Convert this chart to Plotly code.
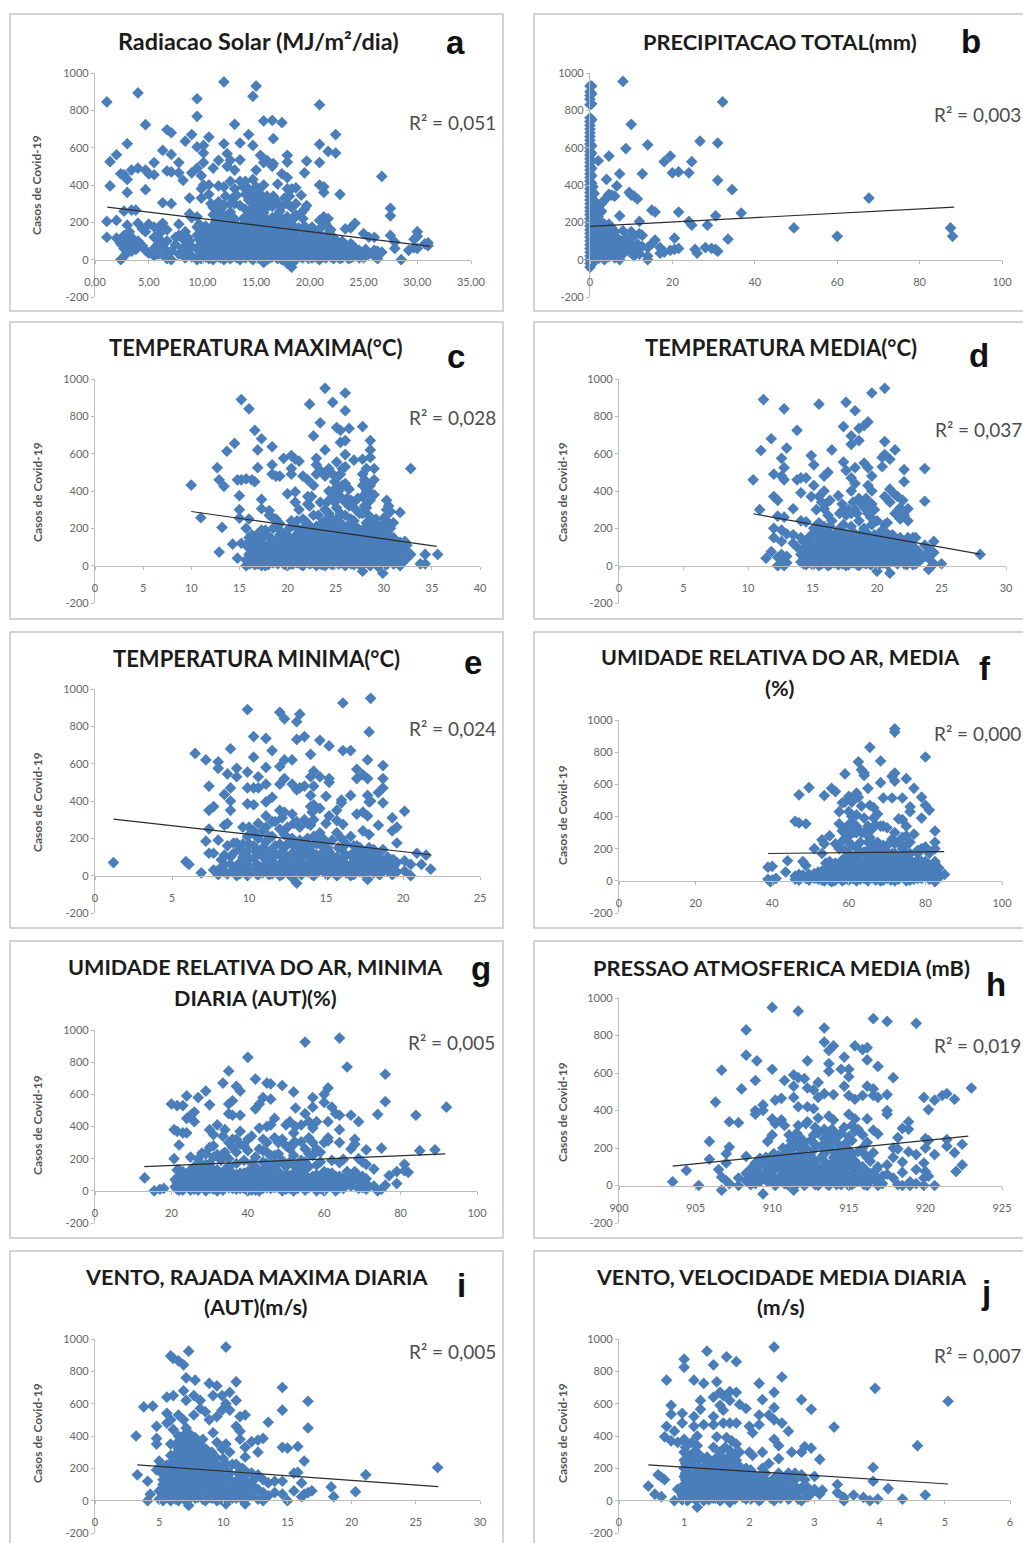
import plotly.graph_objects as go

# Scatter values: (x value, [case counts at that x])
a_cols = [(1.1,[845,205,120]),(1.4,[525,395]),(2.0,[562,210,115]),(2.4,[85,0,460]),(2.7,[455,260,130,60]),(3.0,[621,430,360,185,100,40]),(3.4,[480,265,120,75,45]),(3.8,[265,90,55]),(4.0,[893,490,195,100]),(4.4,[165,75]),(4.7,[723,480,375,150,50]),(5.0,[460,190,35]),(5.5,[520,455,175,120,60,20]),(5.9,[170,85,30]),(6.3,[585,305,195,70,25]),(6.7,[696,475,160,100,45,5]),(7.1,[680,564,470,300,45,0]),(7.5,[120,80]),(7.8,[520,465,190,130,30]),(8.2,[425,110,60]),(8.4,[635,150,50,10]),(8.8,[330,245,100,30]),(9.0,[670,465,225,70,15]),(9.5,[862,768,604,490,230,175,130,60,0]),(9.9,[450,380,330,150,90,30,5]),(10.1,[612,571,520,400,110,60,20]),(10.6,[657,400,350,150,85,40,5]),(11.0,[490,280,240,120,70,30,0]),(11.5,[532,395,310,260,180,130,90,50,15]),(12.0,[952,621,390,290,240,165,115,70,30,0]),(12.3,[568,500,210,150,100,55,15]),(12.6,[532,420,300,255,190,130,80,40,5]),(13.0,[725,480,380,300,215,150,100,60,20]),(13.5,[625,535,420,290,170,120,70,30,0]),(14.0,[420,350,270,200,140,90,45,10]),(14.3,[670,380,320,240,165,110,65,20]),(14.7,[875,612,430,300,225,150,90,40,0]),(15.0,[930,480,390,330,260,190,130,70,25]),(15.4,[559,350,290,215,160,100,50,5]),(15.7,[743,520,400,320,250,180,120,70,25,-15]),(16.0,[532,340,280,215,150,90,40,0]),(16.5,[746,500,285,225,165,110,60,15]),(16.6,[648,514,340,190,125,75,30]),(17.0,[405,300,240,170,100,50,5]),(17.4,[734,460,285,220,150,90,40,0]),(17.9,[559,523,440,380,300,230,170,110,60,10,-20]),(18.3,[380,280,190,125,70,30,-20,-40]),(18.7,[385,300,240,130,80,35,0]),(19.2,[345,250,110,60,15]),(19.5,[465,270,180,90,40]),(19.7,[528,290,150,70,20]),(20.2,[175,110,60,10]),(20.9,[830,618,520,400,210,130,75,30,0]),(21.3,[390,360,230,100,55,15]),(21.7,[580,220,140,80,35]),(22.4,[571,670,100,60,20]),(22.8,[350,85,40,5]),(23.3,[165,70,30]),(23.8,[170,85,40,10]),(24.2,[195,55,20]),(25.0,[140,40,10]),(25.5,[120,30]),(26.0,[120,50,20]),(26.3,[45,5]),(26.7,[446,40]),(27.5,[235,275,130]),(27.9,[60,95]),(28.5,[0]),(29.2,[50]),(29.7,[65,110]),(30,[150,125,60]),(30.7,[85]),(31,[75,90])]
a_dense = [(9.7,[20,45,70,110,190]),(10.3,[15,40,75,130,180]),(10.8,[10,55,95,130,170,300]),(11.2,[20,45,100,150,200]),(11.7,[10,35,70,110,150,220]),(12.15,[20,50,90,140,200,340]),(12.8,[15,60,110,160,230,330]),(13.2,[10,40,80,125,185,345]),(13.8,[20,50,100,150,220,390]),(14.5,[10,35,75,130,190,270,350]),(14.9,[15,55,110,170,300]),(15.2,[10,45,95,150,220,370]),(15.55,[25,75,130,190,270]),(15.9,[15,60,110,170,310]),(16.3,[10,35,85,135,190,300]),(16.8,[20,45,90,145,210,320]),(17.2,[15,65,120,190,260]),(17.65,[20,70,125,190,330]),(18.1,[10,45,100,155,210,340]),(18.5,[15,55,105,160,220]),(18.95,[20,60,100,170]),(19.35,[10,35,80,130,220]),(19.9,[5,30,55,100,130]),(20.4,[15,40,85,135]),(20.7,[10,50,100,150]),(21.1,[20,50,80,115,175]),(21.5,[10,30,65,120,190]),(21.95,[15,55,100,160]),(22.2,[5,40,80,120]),(22.6,[15,55,90]),(23,[10,35,70,100]),(23.6,[5,25,55]),(24,[15,45,75]),(24.6,[10,30,50]),(25.2,[25,55]),(2.9,[30,85]),(3.2,[55,100,150]),(6.0,[110,140]),(8.6,[80,120])]
b_cols = [(0,[-40,-20,0,20,40,60,80,100,120,140,160,180,200,220,240,260,280,300,320,340,360,380,400,420,440,460,480,500,520,540,560,580,600,620,640,660,680,700,720,740,760,830,860,880,900,930]),(0.4,[-25,10,50,90,130,170,210,250,290,330,370,410,450,490,530,570,610,750,835,890,930]),(1,[0,35,75,115,155,195,235,275,315,355]),(1.5,[15,60,105,150,195,240,300]),(2,[530,5,45,90,135,185,230,280]),(2.8,[260,25,70,115,165,200,300]),(3.5,[0,50,100,150,190,320]),(4,[430,30,75,125,180,330]),(4.6,[555,15,100,190,350]),(5.3,[60,130,170,345]),(6,[10,90,150,340]),(6.5,[395,40,120]),(7.2,[0,60,100,460,235]),(8,[955,30,75,155]),(8.7,[595,60,115]),(9.5,[45,95,360]),(10,[725,75,150,345]),(10.7,[20,55,130,340]),(11.5,[85,325]),(12,[30,140,205]),(12.7,[460,130,70]),(14,[615,0,65,20]),(15,[265,85]),(15.8,[105,255]),(17,[35,65]),(18,[525,40]),(19.5,[555,50]),(20,[465]),(20.5,[115,55]),(21.5,[470,60,255]),(24,[465,205]),(24.7,[185,525]),(25.5,[55]),(26,[35]),(26.7,[635]),(28,[65]),(28.5,[185]),(29.5,[60]),(30.5,[235,55]),(31,[625,425,45]),(32.2,[845]),(33.5,[110]),(34.5,[375]),(36.7,[250]),(49.5,[170]),(60,[125]),(67.7,[330]),(87.5,[170]),(88,[125])]
b_dense = [(0.7,[20,70,110,150,190,230,270,310,350,390]),(1.2,[55,95,135,175,215,255,295]),(2.4,[20,65,110,155,205,250])]
c_cols = [(10,[432]),(11,[257]),(12.7,[525]),(12.9,[460,73]),(13.2,[205]),(13.4,[425]),(13.7,[613]),(14.3,[115]),(14.5,[655]),(14.8,[460,40]),(15,[375,300,255]),(15.2,[890,460,120]),(15.7,[465,200,110,30,0]),(16,[840,250,150,60]),(16.3,[460,165,100,25]),(16.6,[725,450,140,70,5]),(16.9,[620,525,170,40]),(17.3,[680,355,305,190,120,60,0]),(17.7,[190,100,35,0]),(18.1,[295,270,80,20]),(18.4,[637,540,490,260,140,50]),(18.8,[480,250,110,65,20]),(19.2,[480,225,165,90,40]),(19.6,[575,170,120,60,10]),(20,[385,140,85,30,0]),(20.4,[590,520,490,240,110,55,10]),(20.8,[570,395,340,210,150,90,35]),(21.2,[560,300,130,70,20]),(21.6,[480,250,200,105,50,0]),(22.1,[460,370,330,225,165,90,35]),(22.3,[865,320,130,60,10]),(22.7,[695,430,270,100,40]),(23,[575,540,490,210,150,85,25,0]),(23.4,[765,510,340,180,120,60,10]),(23.9,[950,620,480,300,240,195,150,100,45,0]),(24.3,[520,400,280,210,120,70,25]),(24.7,[875,490,370,250,170,100,50,5]),(25.1,[740,555,420,310,230,150,90,35]),(25.5,[725,660,490,370,280,190,130,70,15]),(26,[925,830,670,595,530,440,340,270,170,100,50,0]),(26.4,[735,410,320,210,130,75,25]),(26.9,[565,340,240,160,100,45,5]),(27.3,[360,200,130,70,15]),(27.8,[745,570,490,430,370,280,190,120,60,-30]),(28.2,[520,400,310,230,150,90,35]),(28.6,[670,620,580,430,350,260,170,110,55,0]),(29,[520,460,380,240,130,75,20]),(29.4,[190,130,80,40,-5]),(29.9,[220,100,60,-40]),(30.3,[350,300,240,170,110,50,5]),(30.7,[290,200,90,40]),(31.2,[130,70,15]),(31.7,[285,125,50,0]),(32.2,[130,90,30]),(32.8,[520,60]),(33.8,[10]),(34.3,[60,10]),(35.6,[60])]
c_dense = [(16.1,[10,40,90,130]),(16.9,[10,50,95]),(17.5,[20,75,150]),(18,[5,50,110,160]),(18.5,[15,40,85,200]),(19,[10,55,100,140,200]),(19.4,[20,70,140]),(19.8,[5,40,90,150]),(20.2,[15,60,100,150,200]),(20.6,[10,40,80,130]),(21,[15,60,100,170,240]),(21.4,[5,40,85,135,185]),(21.8,[15,70,125,170,240]),(22.5,[15,55,100,150,200,370]),(22.9,[10,45,115,160]),(23.2,[20,70,130,200,270]),(23.6,[5,45,90,150,230]),(24.1,[15,70,125,170,340]),(24.5,[10,45,95,150,250,390]),(24.9,[20,75,130,200,340,450]),(25.3,[10,55,110,170,260,400,480]),(25.7,[25,90,150,220,430,520]),(26.2,[15,70,130,210,360,420]),(26.6,[10,50,100,165,250,350]),(27.1,[15,65,125,200,300]),(27.5,[5,45,90,150,280]),(28,[15,75,130,200,320,460]),(28.4,[10,50,110,170,270,420]),(28.8,[25,85,140,210,380]),(29.2,[10,55,100,170,250]),(29.6,[20,70,120,160,210]),(30.1,[10,35,80,135,190,260]),(30.5,[20,60,130,200,320]),(31,[10,45,100,150,230]),(31.4,[25,75,110]),(31.9,[15,80,105]),(32.4,[40,110])]
d_cols = [(10.4,[460]),(10.9,[300]),(11,[617]),(11.2,[890]),(11.4,[40]),(11.8,[680,75]),(12,[490,370,200,150]),(12.3,[350,265,45,0]),(12.6,[575,480,190,130,60]),(12.8,[840,525,460,260,20,0]),(13,[630,170,50,15]),(13.5,[305,120,165]),(13.8,[725,460,100]),(14.1,[390,470,240,150,60,20]),(14.5,[470,235,110,70,30,5]),(14.9,[590,370,130,90,45]),(15.1,[540,430,200,60,10]),(15.5,[865,370,230,160,100,50,0]),(15.9,[480,400,305,210,130,80,30]),(16.2,[500,270,180,100,50,0]),(16.5,[620,240,140,70,20]),(17,[375,190,110,55,5]),(17.4,[745,555,300,220,150,90,35]),(17.6,[875,510,270,170,110,60,0]),(18,[695,650,470,400,280,210,130,70,20]),(18.3,[830,525,440,300,170,100,50]),(18.6,[735,670,360,240,150,85,30,0]),(19,[750,550,320,200,120,60,15]),(19.3,[770,525,430,280,170,90,35]),(19.6,[925,480,400,330,220,130,70,10]),(20,[240,160,100,50,-30]),(20.4,[580,530,190,120,65,15]),(20.6,[950,665,595,370,220,90,30]),(21,[570,410,340,160,100,45,-40]),(21.4,[620,380,280,130,75,20]),(21.8,[310,250,150,95,50]),(22.1,[515,450,270,110,60,10]),(22.4,[305,240,150,80,30]),(22.8,[150,100,50,5]),(23.3,[70,25]),(23.7,[520,345,110,50]),(24,[90,40,-20]),(24.4,[130,70,10]),(25,[10]),(28,[60])]
d_dense = [(14.3,[10,45,90,130]),(14.7,[20,60,105,150]),(15,[5,35,85,115,170]),(15.3,[25,70,125,190,300]),(15.7,[10,40,90,140,200,340]),(16,[20,65,110,165,330]),(16.35,[5,35,85,125,210,350]),(16.7,[15,55,100,160]),(17.1,[30,80,130,280]),(17.3,[10,50,100,170,330]),(17.8,[5,45,95,150,300]),(18.15,[15,60,105,170,340]),(18.45,[5,40,85,130,280]),(18.8,[20,70,110,175,330]),(19.15,[10,45,95,150,300,360]),(19.5,[5,30,75,115,260]),(19.8,[20,60,105,165,300]),(20.15,[5,40,85,130]),(20.5,[15,45,100,150]),(20.8,[5,60,115,170,230]),(21.2,[25,70,110,165]),(21.6,[10,50,95,140,370]),(22,[20,70,125,350]),(22.3,[5,45,105]),(22.6,[25,70,125]),(23,[10,50,90,150])]
e_cols = [(1.2,[70]),(5.9,[75]),(6.1,[60]),(6.5,[655]),(6.9,[15]),(7.2,[620,185]),(7.4,[350,480,250,120]),(7.7,[370,120,30]),(8,[610,575,190,30,5]),(8.4,[435,270,110,60,20]),(8.6,[545,280,160,10]),(8.8,[680,470,400,350,100,60]),(9.2,[575,530,175,50,0]),(9.6,[260,170,100,30]),(9.9,[890,555,470,385,210,130,60,0]),(10.3,[745,635,470,380,240,160,95,30]),(10.6,[530,470,280,200,120,55,5]),(11.1,[735,580,490,395,320,260,180,100,40]),(11.5,[670,420,290,210,130,70,10]),(12,[875,585,490,350,250,170,110,50,0]),(12.3,[840,620,520,340,220,150,85,30]),(12.8,[620,330,490,200,120,60,-10]),(13.1,[825,730,460,290,170,100,45,-40]),(13.3,[865,470,260,190,130,70,15]),(13.6,[745,480,300,180,110,55]),(14,[650,530,430,370,270,160,90,30]),(14.2,[560,480,380,300,210,120,60,0]),(14.6,[725,530,360,230,170,95,40]),(15,[425,280,180,120,65,10]),(15.2,[695,500,520,320,130,80,25]),(15.7,[350,295,230,100,50,0]),(16,[405,390,200,140,70,20]),(16.1,[925,670,275,90,40]),(16.6,[670,430,210,110,55,0]),(17,[570,520,330,160,90,30]),(17.4,[540,340,240,130,70,15]),(17.7,[620,520,430,320,110,55,-20]),(17.8,[770,395,220,150,80,30]),(17.9,[950,400,90,40]),(18.4,[445,270,120,65,10]),(18.7,[590,520,470,390,140,80,30]),(19.3,[240,310,85,40,5]),(19.6,[260,175,70,20]),(20.1,[345,80,25]),(20.5,[60,0]),(20.9,[120]),(21.2,[60]),(21.5,[110]),(21.8,[35])]
e_dense = [(8.2,[85,40]),(9,[30,120,175]),(9.4,[10,70,140]),(10,[20,90,170,260]),(10.5,[10,60,130,210]),(10.9,[15,50,100,150,240]),(11.3,[5,35,75,130,210]),(11.7,[20,60,110,160,290]),(12.15,[5,30,75,130,310]),(12.5,[15,55,100,170,260]),(12.9,[20,45,90,160,280]),(13.4,[5,35,100,150]),(13.8,[20,60,130,200,280]),(14.1,[5,40,75,120,340]),(14.4,[15,55,110,170]),(14.8,[25,70,125,200]),(15.1,[5,40,90,150]),(15.4,[20,60,105,190]),(15.8,[5,35,80,150]),(16.3,[15,60,110,170]),(16.8,[5,30,75,120,160]),(17.2,[20,60,110,150]),(17.6,[10,40,85,130]),(18.1,[15,55,100,140]),(18.5,[5,40,90]),(19,[25,65,100]),(19.4,[15,50,85])]
f_cols = [(38.9,[10,85]),(39.5,[-5]),(40,[90,5]),(41,[15]),(44,[125]),(43.5,[55]),(46,[370,10,30]),(47,[535,360,40,5]),(48,[120,35]),(48.8,[355,95,15]),(49.6,[580,40,5]),(51,[200,45,15]),(52,[55,10]),(53,[255,170,30,5]),(53.6,[530,230,60,0]),(55,[280,85,120,20]),(55.5,[575,35,-5]),(56.5,[555,230,110,50,5]),(57.5,[430,355,200,85,25]),(58.3,[485,310,130,60,0]),(59,[665,490,265,190,90,30]),(60,[525,430,350,280,130,60,5]),(60.8,[490,400,220,90,35]),(61.5,[305,155,85,15]),(62,[545,410,300,65,0]),(62.5,[740,520,130,30]),(63.3,[690,465,300,100,60]),(64,[655,670,390,180,80,15]),(65,[575,340,240,130,40,0]),(65.5,[830,470,270,100,60]),(66.5,[455,390,200,150,80,15]),(67.5,[415,240,120,45]),(68.3,[745,610,340,170,90,25,0]),(69,[515,220,130,60]),(70,[330,180,100,35]),(71.3,[650,515,260,170,75,15]),(72,[925,945,670,620,230,120,60,0]),(73,[385,110,40]),(74,[515,380,200,150,80,25]),(75,[635,340,280,220,120,60,0]),(76,[460,430,170,90,30]),(77,[575,290,110,60,10]),(78,[190,130,50]),(79,[520,390,75,15]),(80,[770,470,210,120,60]),(81,[440,170,100,35]),(82.5,[310,240,200,120,40,-5]),(83.5,[80,20]),(85,[40])]
f_dense = [(50,[20]),(53,[60]),(54,[45,10,110]),(55,[55,5]),(56,[30,0,85]),(57,[60,15]),(58,[30,100,240]),(59,[10,55,135,320]),(60,[25,100,170,240]),(61,[15,60,130,300,360]),(62,[35,100,205,340]),(63,[10,60,170,240]),(64,[35,120,300]),(65,[10,70,165,190]),(66,[30,110,240,320]),(67,[5,60,90,170,350]),(68,[20,50,120,210]),(69,[5,35,90,170,340]),(70,[15,60,140,220]),(71,[5,40,110]),(72,[30,90,170,300]),(73,[10,65,150,240]),(74,[45,115,270]),(75,[25,90,170]),(76,[5,60,130,240]),(77,[35,85]),(78,[15,80,170]),(79,[45,120,200]),(80,[25,90]),(81,[10,60]),(82,[75,20]),(83,[50])]
g_cols = [(13,[80]),(15.5,[0]),(17,[10]),(18,[15]),(20,[540]),(20.7,[200,380]),(21.5,[530,370,130,50,10]),(22,[285,90]),(23,[530,360,120,60,5]),(24,[590,450,360,100,30]),(25,[210,470,130,70,5]),(26,[430,490,150,90,40]),(27,[580,200,110,50,5]),(28,[235,160,95,30]),(29,[620,130,65,0]),(30,[535,380,270,170,105,50,15]),(31,[350,280,130,70,10]),(32,[410,225,100,40,0]),(33.5,[670,340,230,110,55,5]),(34,[380,130,30]),(35,[745,540,480,300,150,80,20]),(36,[560,470,270,110,45]),(37,[650,320,240,70,10]),(38,[620,470,370,110,40]),(39,[280,80,15]),(40,[830,320,120,60,0]),(41,[340,130,80,30]),(42,[695,510,150,55,5]),(43,[540,390,120,80,0]),(44,[580,250,180,100,40]),(45,[670,400,300,240,130,65]),(46,[665,570,410,150,85,15]),(47,[450,330,220,110,45]),(48,[230,170,85,20]),(49,[655,320,60,0]),(50,[410,150,105,40]),(51,[430,260,95,15]),(52,[615,360,220,160,60,0]),(52.5,[515,400,300,120]),(54,[410,305,130,70,25]),(55,[925,480,180,100,40,5]),(56,[330,430,230,70]),(57,[580,520,390,300,90,30]),(58,[430,260,100,50,0]),(59,[240,80,15]),(60,[600,550,120,60,0]),(61,[640,430,330,310,80,25]),(62,[520,110,50]),(63,[480,90,30,0]),(64,[950,470,380,300,175,60]),(65,[195,75,15]),(66,[770,120,50]),(67,[470,260,60,30]),(68,[320,290,120,70]),(69,[430,200,60,15]),(70,[180,90,40]),(71,[255,165,75,10]),(73,[135,30]),(74,[475,0]),(75,[265,10]),(76,[725,555,35]),(77,[95]),(79,[120,45]),(81,[165,125]),(82,[115]),(84,[470]),(85,[250]),(89,[255]),(92,[520])]
g_dense = [(21,[25,70]),(22,[5,40,130]),(23,[30,90]),(24,[55]),(25,[35,100]),(26,[10,65]),(27,[25,80,150]),(28,[60,115]),(29,[20,95,165,230]),(30,[75]),(31,[30,100,210]),(32,[65,130]),(33,[25,85,190]),(34,[60,95,240]),(35,[110,200]),(36,[15,75,320]),(37,[40,100,170]),(38,[15,75,290]),(39,[50,110,190]),(40,[25,90,250]),(41,[5,55,110,170]),(42,[30,90,210]),(43,[30,55,260]),(44,[15,70,130,320]),(45,[20,95,170]),(46,[50,110,220]),(47,[20,80,170]),(48,[50,120,300]),(49,[30,90,190]),(50,[10,70,280]),(51,[45,180]),(52,[30,100,300]),(53,[15,80,160]),(54,[45,100,190]),(55,[70,140,260]),(56,[20,45,150]),(57,[60,220]),(58,[25,75,160]),(59,[50,180]),(60,[30,90,300]),(61,[50,110]),(62,[25,80,190]),(63,[60]),(64,[20,90]),(65,[45]),(67,[90]),(69,[90]),(70,[65,20]),(71,[45])]
h_cols = [(903.5,[20]),(904.4,[80]),(905.2,[0]),(905.9,[235,140]),(906.3,[445]),(906.5,[85]),(906.7,[615,-25,45]),(907,[170,120,25]),(907.2,[340,205,10]),(907.8,[335,40,0]),(908,[515]),(908.3,[830,695,155,65,25]),(908.9,[560,400,380,120,70,10]),(909,[665,90,40]),(909.4,[430,400,45,-45]),(909.7,[235,130,80,20]),(910,[950,620,355,270,110,55]),(910.2,[455,330,150,30,0]),(910.6,[465,350,95,50]),(910.8,[560,320,170,120,70,10]),(911.1,[270,205,130,35]),(911.4,[590,530,470,245,160,90,55,-25]),(911.7,[930,575,420,320,205,120,15]),(912.1,[570,230,150,85,35,0]),(912.3,[665,520,420,340,110,60]),(912.7,[510,410,270,190,135,20]),(913,[550,470,360,280,100,55,0]),(913.4,[765,840,490,300,250,170,130,30]),(913.7,[720,650,610,370,270,210,80,0]),(914,[745,485,350,290,150,45]),(914.5,[620,280,200,120,70,5]),(914.7,[685,530,310,170,100,30]),(915,[620,580,480,380,260,190,130,50,0]),(915.4,[745,460,355,290,130,75,15]),(915.9,[725,480,270,200,100,40]),(916.2,[735,670,530,355,230,150,70,0]),(916.6,[890,515,480,295,175,40]),(916.9,[635,470,275,100,15,0]),(917.5,[875,485,400,380,110,60]),(917.9,[575,200,150,40]),(918.2,[255,195,5]),(918.5,[305,125,70,0]),(918.9,[340,300,180]),(919,[20,0]),(919.4,[865,165,85,10]),(919.9,[470,120,40,0]),(920,[250,200,75]),(920.2,[405,240,50]),(920.6,[455,165,0]),(921.1,[480]),(921.4,[490,245,210]),(921.9,[460,175]),(922,[75]),(922.4,[220,110]),(923,[520])]
h_dense = [(908.6,[40,90,5]),(909.2,[20,65,110,145]),(909.6,[50,100,150]),(910.1,[15,80,135,170]),(910.4,[40,110,160]),(910.7,[20,75,130,200]),(911,[5,50,100,170]),(911.25,[30,70,120,190,240]),(911.6,[10,45,85,140,220,280]),(911.9,[25,65,105,175,250]),(912.2,[10,50,120,200,330]),(912.5,[30,85,160,240]),(912.8,[5,60,110,220,310]),(913.2,[25,80,150,210]),(913.55,[10,55,105,220,280]),(913.9,[30,75,120,190,250,300]),(914.2,[5,50,100,170,230]),(914.4,[25,80,140,270]),(914.85,[15,60,110,150,230]),(915.2,[5,40,95,165,240,320]),(915.6,[25,60,110,180,300]),(916,[5,45,90,170]),(916.4,[25,65,130]),(916.8,[45,85]),(917.2,[10,50])]
i_cols = [(3.2,[400]),(3.3,[160]),(3.8,[580]),(4.1,[120,0]),(4.3,[40]),(4.5,[585]),(4.8,[460,385,350,190]),(5,[245,60,10]),(5.3,[130,100,35,0]),(5.6,[640,540,480,220,160,70,20]),(5.9,[895,500,350,280,120,60,0]),(6.1,[880,650,440,200,100,30]),(6.5,[865,530,400,320,250,150,80,0]),(6.9,[840,680,500,300,180,120,40]),(7.1,[760,620,450,360,240,90,20]),(7.3,[925,420,280,180,130,55,-30]),(7.7,[650,530,330,230,100,35]),(7.8,[745,390,290,170,75,15]),(8.2,[620,570,340,250,130,60]),(8.6,[550,320,210,110,30,0]),(8.9,[725,500,280,165,85,20]),(9.2,[650,420,250,130,50]),(9.5,[710,520,360,220,110,0]),(9.9,[650,560,320,180,70,25]),(10.2,[950,600,350,230,130,-20]),(10.5,[670,560,300,170,80,30]),(11,[735,620,460,225,120,60,15]),(11.3,[520,430,380,160,100,40]),(11.7,[530,330,270,130,75,-20]),(12.2,[365,170,100,30]),(12.7,[375,300,160,70,10]),(13.1,[385,130,50,0]),(13.5,[485,110,30]),(14,[120,50]),(14.6,[700,560,330,120,40]),(15,[325,0]),(15.5,[60,170]),(15.8,[335,175]),(16.1,[110,25]),(16.3,[245,40]),(16.6,[615,450,50]),(16.9,[60]),(18.4,[85]),(18.6,[25]),(20.3,[55]),(21.1,[160]),(26.7,[205])]
i_dense = [(5.2,[170,200]),(5.7,[45,100,130,190]),(6,[25,80,150,180,240]),(6.3,[10,50,110,175,220,290,350]),(6.7,[25,60,115,180,270,330,390]),(7,[5,70,150,220,280,340,410]),(7.4,[15,80,110,230,330,380]),(7.6,[45,90,150,200,270,360]),(8,[20,60,100,150,210,300,370]),(8.4,[10,40,95,170,230,290,380]),(8.75,[50,130,195,250,310]),(9.1,[15,70,110,170,220,300]),(9.4,[30,85,150,190,270]),(9.7,[10,50,130,210]),(10,[40,100,150,260]),(10.3,[5,65,180]),(10.7,[15,55,120,225]),(11.15,[30,90,170]),(11.5,[5,60,130,200]),(11.9,[25,85,170]),(12.4,[60,130])]
j_cols = [(0.45,[90]),(0.55,[40]),(0.6,[160]),(0.65,[25,145]),(0.7,[130,395]),(0.73,[745,460]),(0.8,[590,370,535]),(0.85,[430,0]),(0.9,[360,70]),(0.97,[480,540,30,5]),(1,[875,825,380,300,250,200,150,100,60]),(1.05,[350,120,20,0]),(1.15,[745,520,460,300,220,150,80,35]),(1.2,[400,340,180,110,60,-40]),(1.25,[620,565,270,130,20]),(1.3,[725,470,200,80,0]),(1.35,[925,270,150,45]),(1.45,[840,640,520,470,330,240,110,15]),(1.5,[735,395,180,80,40]),(1.55,[670,590,300,130,0]),(1.6,[650,560,480,240,60]),(1.65,[890,390,200,110,25]),(1.7,[675,620,480,310,160,-10]),(1.8,[860,670,480,350,250,80,30]),(1.85,[595,300,180,120]),(1.95,[570,200,60,10]),(2,[460,300,130]),(2.05,[420,280,170,80,20]),(2.15,[725,530,470,90,40,0]),(2.2,[625,300,200,130]),(2.3,[530,230,100,50]),(2.38,[950,670,575,500,380,140,0]),(2.45,[340,260,170,90,30]),(2.5,[765,480,120,55]),(2.6,[430,170,100,10]),(2.65,[300,150,50]),(2.8,[625,300,160,80,0]),(2.85,[335,130,50]),(2.95,[565,325,45]),(3,[150,70]),(3.08,[255,40]),(3.12,[65]),(3.3,[455]),(3.35,[100,50]),(3.45,[0,20]),(3.6,[35]),(3.75,[20]),(3.85,[0]),(3.9,[205,120]),(3.93,[695]),(3.97,[10]),(4.13,[75]),(4.35,[10]),(4.58,[340]),(4.7,[35]),(5.05,[615])]
j_dense = [(1.02,[10,40,80,130,170,230,330]),(1.08,[55,100,170,210,280]),(1.12,[20,40,130,250,360]),(1.18,[5,65,100,155,240]),(1.22,[35,85,130,210,290]),(1.28,[15,60,110,170]),(1.33,[35,85,120,190,240]),(1.38,[5,60,110,170,210]),(1.42,[35,85,140,200]),(1.48,[15,60,120,160,260]),(1.53,[35,100,150,220]),(1.58,[10,70,120,190,270]),(1.63,[40,90,150,230,330]),(1.68,[15,60,130,200,270]),(1.73,[35,85,110,230,370]),(1.78,[10,60,130,190,290]),(1.83,[40,90,160,220]),(1.9,[20,70,120,170]),(1.98,[40,90,150]),(2.02,[10,60,120,190]),(2.1,[30,75,130]),(2.18,[10,55,110,160]),(2.25,[35,85,130,170]),(2.33,[15,60,110]),(2.42,[40,90,150]),(2.48,[15,65]),(2.55,[35,85,140]),(2.62,[15,65]),(2.7,[35,90,130,170]),(2.75,[55,10]),(2.9,[25,80])]

# Trend lines
a_trend = ([1.15,31.2],[282,71]);   b_trend = ([0,88.4],[178,282])
c_trend = ([10,35.5],[290,103]);    d_trend = ([10.4,28],[278,62])
e_trend = ([1.2,21.8],[303,112]);   f_trend = ([38.9,84.9],[170,182])
g_trend = ([12.9,91.7],[151,230]);  h_trend = ([903.5,922.8],[103,263])
i_trend = ([3.3,26.75],[221,87]);   j_trend = ([0.45,5.05],[221,103])

# Tick labels
y_ticks = [-200,0,200,400,600,800,1000]
a_ticks = [0,5,10,15,20,25,30,35]
a_ticktext = ["0,00","5,00","10,00","15,00","20,00","25,00","30,00","35,00"]
b_ticks = [0,20,40,60,80,100]
c_ticks = [0,5,10,15,20,25,30,35,40]
d_ticks = [0,5,10,15,20,25,30]
e_ticks = [0,5,10,15,20,25]
h_ticks = [900,905,910,915,920,925]
i_ticks = [0,5,10,15,20,25,30]
j_ticks = [0,1,2,3,4,5,6]

W, H = 1023, 1543
BLUE = "#4a7ebb"
GREY = "#bcbcbc"
TICKC = "#666666"
FONT = "Lato"

def px(x): return x / W
def py(y): return 1 - y / H

panels = [
 dict(cols=a_cols+a_dense,trend=a_trend,t=a_ticks,tt=a_ticktext,xr=[0,35],L=95,R=471,T=73,B=297,Z=259.5,frame=(10,14,503,311),title=[("Radiacao Solar (MJ/m²/dia)",258,41)],ts=23.4,let=("a",455,43),r2=("R² = 0,051",452,122),yt=(37,185)),
 dict(cols=b_cols+b_dense,trend=b_trend,t=b_ticks,tt=None,xr=[0,100],L=590,R=1002,T=73,B=297,Z=259.5,frame=(534,14,1040,311),title=[("PRECIPITACAO TOTAL(mm)",780,41)],ts=21.8,let=("b",971,42),r2=("R² = 0,003",977,114),yt=None),
 dict(cols=c_cols+c_dense,trend=c_trend,t=c_ticks,tt=None,xr=[0,40],L=95,R=480,T=379,B=603,Z=566,frame=(10,322,503,619),title=[("TEMPERATURA MAXIMA(°C)",256,347)],ts=22,let=("c",456,356),r2=("R² = 0,028",452,417),yt=(37,492)),
 dict(cols=d_cols+d_dense,trend=d_trend,t=d_ticks,tt=None,xr=[0,30],L=619,R=1006,T=379,B=603,Z=566,frame=(534,322,1040,619),title=[("TEMPERATURA MEDIA(°C)",781,347)],ts=22,let=("d",979,355),r2=("R² = 0,037",978,430),yt=(562,492)),
 dict(cols=e_cols+e_dense,trend=e_trend,t=e_ticks,tt=None,xr=[0,25],L=95,R=480,T=689,B=913,Z=876,frame=(10,632,503,928),title=[("TEMPERATURA MINIMA(°C)",256,658)],ts=22,let=("e",473,662),r2=("R² = 0,024",452,728),yt=(37,802)),
 dict(cols=f_cols+f_dense,trend=f_trend,t=b_ticks,tt=None,xr=[0,100],L=619,R=1002,T=720,B=913,Z=881,frame=(534,632,1040,928),title=[("UMIDADE RELATIVA DO AR, MEDIA",780,657),("(%)",780,688)],ts=21.5,let=("f",985,668),r2=("R² = 0,000",977,733),yt=(562,815)),
 dict(cols=g_cols+g_dense,trend=g_trend,t=b_ticks,tt=None,xr=[0,100],L=95,R=477,T=1030,B=1223,Z=1191,frame=(10,941,503,1238),title=[("UMIDADE RELATIVA DO AR, MINIMA",255,967),("DIARIA (AUT)(%)",255,998)],ts=21.6,let=("g",481,968),r2=("R² = 0,005",451,1042),yt=(37,1125)),
 dict(cols=h_cols+h_dense,trend=h_trend,t=h_ticks,tt=None,xr=[900,925],L=619,R=1002,T=998,B=1223,Z=1186,frame=(534,941,1040,1238),title=[("PRESSAO ATMOSFERICA MEDIA (mB)",781,967)],ts=21.8,let=("h",996,984),r2=("R² = 0,019",977,1045),yt=(562,1112)),
 dict(cols=i_cols+i_dense,trend=i_trend,t=i_ticks,tt=None,xr=[0,30],L=95,R=480,T=1339,B=1533,Z=1500,frame=(10,1251,503,1600),title=[("VENTO, RAJADA MAXIMA DIARIA",256,1277),("(AUT)(m/s)",256,1307)],ts=21.6,let=("i",461,1285),r2=("R² = 0,005",452,1351),yt=(37,1433)),
 dict(cols=j_cols+j_dense,trend=j_trend,t=j_ticks,tt=None,xr=[0,6],L=619,R=1010,T=1339,B=1533,Z=1500,frame=(534,1251,1040,1600),title=[("VENTO, VELOCIDADE MEDIA DIARIA",781,1277),("(m/s)",781,1307)],ts=21.4,let=("j",986,1292),r2=("R² = 0,007",977,1355),yt=(562,1433)),
]

fig = go.Figure()
shapes, annos = [], []
layout = {}
for n, p in enumerate(panels, 1):
    suf = "" if n == 1 else str(n)
    xs = [c[0] for c in p["cols"] for _ in c[1]]
    ys = [v for c in p["cols"] for v in c[1]]
    fig.add_trace(go.Scatter(x=xs, y=ys, mode="markers", xaxis="x"+suf, yaxis="y"+suf, cliponaxis=False,
                             marker=dict(symbol="diamond", size=9, color=BLUE, line=dict(width=0)), showlegend=False))
    fig.add_trace(go.Scatter(x=p["trend"][0], y=p["trend"][1], mode="lines", xaxis="x"+suf, yaxis="y"+suf,
                             line=dict(color="#2b2b2b", width=1.2), showlegend=False))
    layout["xaxis"+suf] = dict(domain=[px(p["L"]), px(p["R"])], range=p["xr"], anchor="free", position=py(p["Z"]), automargin=False,
        tickmode="array", tickvals=p["t"], ticktext=p["tt"] or [str(v) for v in p["t"]],
        showgrid=False, zeroline=False, showline=True, linecolor=GREY, linewidth=1.2, ticks="outside", ticklen=3,
        tickcolor=GREY, ticklabelstandoff=9, tickfont=dict(family=FONT, size=11, color=TICKC), tickangle=0)
    layout["yaxis"+suf] = dict(domain=[py(p["B"]), py(p["T"])], range=[-200,1000], anchor="x"+suf, automargin=False,
        tickmode="array", tickvals=y_ticks, ticktext=[str(v) for v in y_ticks],
        showgrid=False, zeroline=False, showline=True, linecolor=GREY, linewidth=1.2, ticks="outside", ticklen=3,
        tickcolor=GREY, tickfont=dict(family=FONT, size=11, color=TICKC))
    x0, y0, x1, y1 = p["frame"]
    shapes.append(dict(type="rect", xref="paper", yref="paper", x0=px(x0), x1=px(x1), y0=py(y0), y1=py(y1),
                       line=dict(color="#c6c6c6", width=1.5), fillcolor="white", layer="below"))
    for text, cx, cy in p["title"]:
        annos.append(dict(text="<b>"+text+"</b>", x=px(cx), y=py(cy), xref="paper", yref="paper", showarrow=False,
                          xanchor="center", yanchor="middle", font=dict(family=FONT, size=p["ts"], color="#1c1c1c")))
    t, cx, cy = p["let"]
    annos.append(dict(text="<b>"+t+"</b>", x=px(cx), y=py(cy), xref="paper", yref="paper", showarrow=False,
                      xanchor="center", yanchor="middle", font=dict(family="Liberation Sans", size=33, color="#111111")))
    t, cx, cy = p["r2"]
    annos.append(dict(text=t, x=px(cx), y=py(cy), xref="paper", yref="paper", showarrow=False,
                      xanchor="center", yanchor="middle", font=dict(family=FONT, size=19, color="#4d4d4d")))
    if p["yt"]:
        cx, cy = p["yt"]
        annos.append(dict(text="<b>Casos de Covid-19</b>", x=px(cx), y=py(cy), xref="paper", yref="paper", showarrow=False,
                          textangle=-90, xanchor="center", yanchor="middle", font=dict(family=FONT, size=12, color="#555555")))

fig.update_layout(width=W, height=H, autosize=False, margin=dict(l=0, r=0, t=0, b=0),
                  paper_bgcolor="white", plot_bgcolor="rgba(0,0,0,0)", shapes=shapes, annotations=annos, **layout)
fig.write_html("out.html", config={"displayModeBar": False},
               post_script="document.body.style.margin='0';document.body.style.overflow='hidden';")
